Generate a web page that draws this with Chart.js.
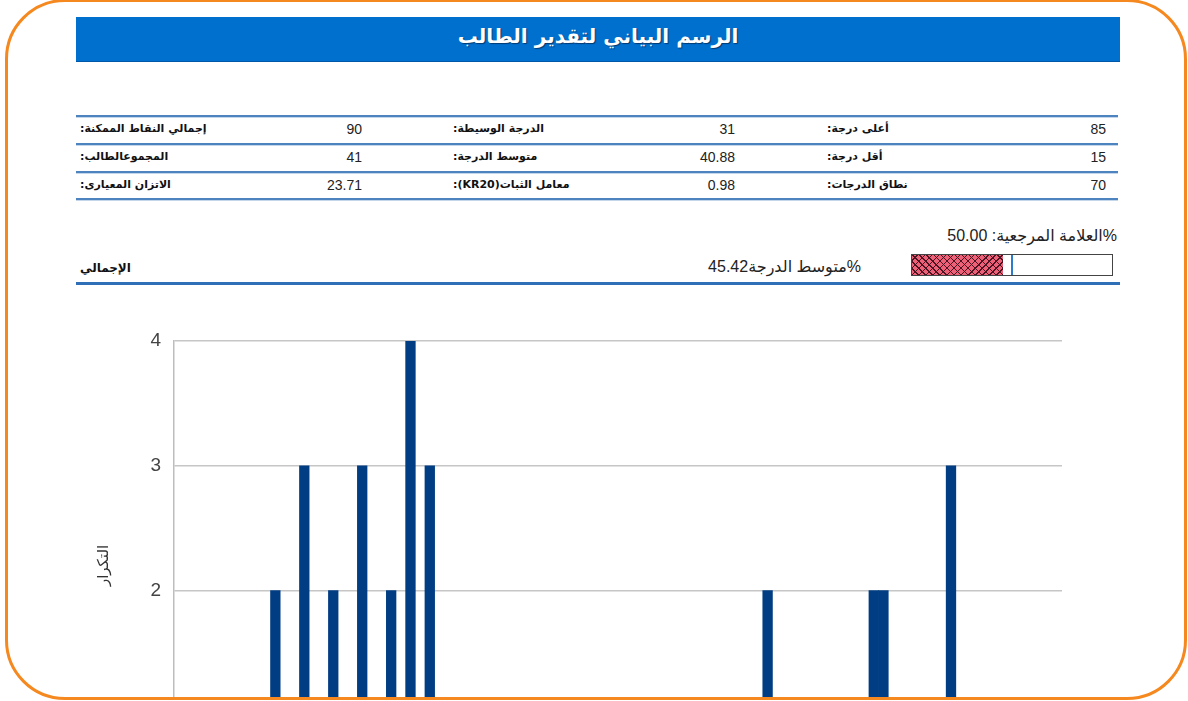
<!DOCTYPE html>
<html lang="ar">
<head>
<meta charset="utf-8">
<title>الرسم البياني لتقدير الطالب</title>
<script src="https://cdn.jsdelivr.net/npm/chart.js@4.4.1/dist/chart.umd.min.js"></script>
<style>
  html, body { margin: 0; padding: 0; }
  body {
    width: 1188px; height: 701px; overflow: hidden; position: relative;
    background: #fff; font-family: "Liberation Sans", "DejaVu Sans", sans-serif; color: #222;
  }
  .card {
    position: absolute; left: 5px; top: -1px; width: 1182px; height: 701px;
    box-sizing: border-box; border: 3px solid #f5891f; border-radius: 60px;
    pointer-events: none; z-index: 5;
  }
  .header {
    position: absolute; left: 76px; top: 17px; width: 1044px; height: 44px;
    background: #0070cf; border-bottom: 1px solid #0059a8;
  }
  .header span {
    position: absolute; left: 0; right: 0; top: 9px; text-align: center;
    color: #fff; font: bold 20px/1 "DejaVu Sans", sans-serif;
    text-shadow: 1px 1px 1px #003a70;
  }
  .rule {
    position: absolute; left: 76px; width: 1042px; height: 2px;
    background: #4d84bf; box-shadow: 0 1px 0 #c3d6ea;
  }
  .lbl {
    position: absolute; direction: rtl; text-align: left; white-space: nowrap;
    font: bold 11px "DejaVu Sans", sans-serif; color: #111;
  }
  .val {
    position: absolute; text-align: right; white-space: nowrap; width: 100px;
    font: 14px "Liberation Sans", sans-serif; color: #222;
  }
  .txt { position: absolute; direction: rtl; white-space: nowrap; font: 16px "Liberation Sans", "DejaVu Sans", sans-serif; color: #222; }
  .bar {
    position: absolute; left: 911px; top: 254px; width: 202px; height: 22px;
    box-sizing: border-box; border: 1px solid #444; background: #fff;
  }
  .fill {
    position: absolute; left: 0; top: 0; bottom: 0;
    background-color: #ee5f78;
    background-image:
      repeating-linear-gradient(45deg, transparent 0 4px, #4a1420 4px 5px),
      repeating-linear-gradient(-45deg, transparent 0 4px, #4a1420 4px 5px);
  }
  .mark { position: absolute; top: 0; bottom: 0; width: 2px; background: #2b7ccf; }
  .thick { position: absolute; left: 76px; top: 282px; width: 1044px; height: 3px; background: #2e6fb8; }
  .chartwrap { position: absolute; left: 60px; top: 310px; width: 1040px; height: 387px; overflow: hidden; }
</style>
</head>
<body>
<div class="card"></div>
<div class="header"><span>الرسم البياني لتقدير الطالب</span></div>
<div id="stats"></div>

<div class="txt" style="right:71px; top:226px;">%العلامة المرجعية: 50.00</div>
<div class="txt" style="right:327px; top:257px;" id="avgText"></div>
<div class="lbl" style="left:80px; top:261px; font-size:12px;">الإجمالي</div>
<div class="bar"><div class="fill" id="fill"></div><div class="mark" id="mark"></div></div>
<div class="thick"></div>

<div class="chartwrap">
  <canvas id="scoreChart" width="1040" height="580"></canvas>
</div>

<script>
// summary table
const statLabels = [
  ["إجمالي النقاط الممكنة:", "الدرجة الوسيطة:", "أعلى درجة:"],
  ["المجموعالطالب:", "متوسط الدرجة:", "أقل درجة:"],
  ["الاتزان المعيارى:", "معامل الثبات(KR20):", "نطاق الدرجات:"]
];
const statValues = [
  ["90", "31", "85"],
  ["41", "40.88", "15"],
  ["23.71", "0.98", "70"]
];
const referencePct = 50.00;
const averagePct = 45.42;

// histogram: score -> number of students
const scores = [15, 18, 21, 24, 27, 29, 31, 66, 77, 78, 85];
const counts = [2, 3, 2, 3, 2, 4, 3, 2, 2, 2, 3];
const yTicks = [0, 1, 2, 3, 4];
const yTitle = "التكرار";

const stats = document.getElementById("stats");
let html = "";
const ruleTops = [115, 143, 171, 198];
ruleTops.forEach(t => { html += `<div class="rule" style="top:${t}px"></div>`; });
const labelLeft = [80, 453, 827];
const valueRight = [362, 735, 1106];
statLabels.forEach((row, r) => {
  const top = 121 + r * 28;
  row.forEach((label, c) => {
    html += `<div class="lbl" style="left:${labelLeft[c]}px; top:${top + 1}px">${label}</div>`;
    html += `<div class="val" style="left:${valueRight[c] - 100}px; top:${top}px">${statValues[r][c]}</div>`;
  });
});
stats.innerHTML = html;

document.getElementById("avgText").textContent = "%متوسط الدرجة" + averagePct.toFixed(2);
document.getElementById("fill").style.width = averagePct + "%";
document.getElementById("mark").style.left = "calc(" + referencePct + "% - 1px)";

const yTitlePlugin = {
  id: "yTitle",
  afterDraw(chart) {
    const ctx = chart.ctx;
    const area = chart.chartArea;
    ctx.save();
    ctx.translate(area.left - 70, (area.top + area.bottom) / 2 - 25);
    ctx.rotate(-Math.PI / 2);
    ctx.font = "15px 'DejaVu Sans'";
    ctx.fillStyle = "#333";
    ctx.textAlign = "center";
    ctx.textBaseline = "middle";
    ctx.fillText(yTitle, 0, 0);
    ctx.restore();
  }
};

const ctx = document.getElementById("scoreChart").getContext("2d");
new Chart(ctx, {
  type: "bar",
  data: {
    datasets: [{
      label: yTitle,
      data: scores.map((s, i) => ({ x: s, y: counts[i] })),
      backgroundColor: "#003d83",
      borderWidth: 0,
      barPercentage: 1,
      categoryPercentage: 1
    }]
  },
  options: {
    responsive: false,
    animation: false,
    layout: { padding: { left: 0, right: 38, top: 31, bottom: 20 } },
    plugins: { legend: { display: false }, tooltip: { enabled: false } },
    scales: {
      x: {
        type: "linear",
        offset: false,
        bounds: "data",
        min: 4.5,
        max: 96.5,
        grid: { display: false },
        border: { display: false },
        ticks: { display: false },
        afterDataLimits(scale) { scale.min = 4.5; scale.max = 96.5; },
        afterFit(scale) { scale.height = 30; }
      },
      y: {
        min: yTicks[0],
        max: yTicks[yTicks.length - 1],
        afterBuildTicks(scale) { scale.ticks = yTicks.map(v => ({ value: v })); },
        grid: { color: "#c6c6c6", lineWidth: 1.5, drawTicks: false },
        border: { display: true, color: "#bdbdbd", width: 1.5 },
        ticks: { padding: 13, color: "#444", font: { family: "Liberation Sans", size: 19 } },
        afterFit(scale) { scale.width = 114; }
      }
    }
  },
  plugins: [yTitlePlugin]
});
</script>
</body>
</html>
